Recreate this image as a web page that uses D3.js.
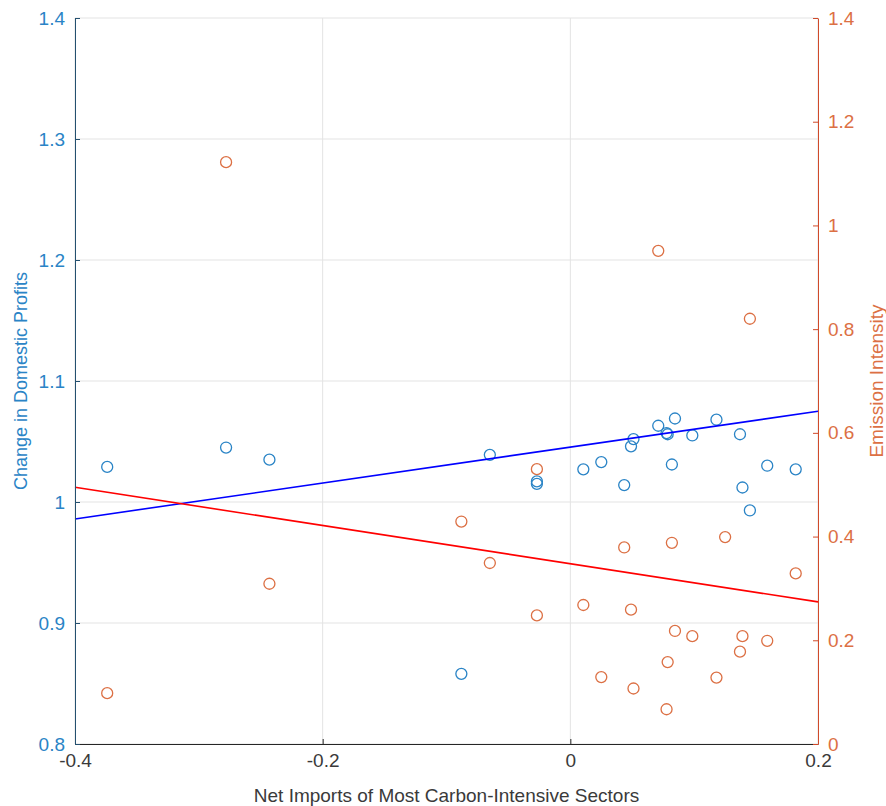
<!DOCTYPE html>
<html>
<head>
<meta charset="utf-8">
<script src="https://cdn.jsdelivr.net/npm/d3@7"></script>
<style>
  body { margin: 0; background: #fff; }
  svg text { font-family: "Liberation Sans", Arial, sans-serif; }
</style>
</head>
<body>
<div id="chart"></div>
<script>
// net imports of most carbon-intensive sectors (shared x)
var netImports = [-0.374, -0.278, -0.243, -0.088, -0.065, -0.027, -0.027, 0.0105, 0.025, 0.0435,
                  0.049, 0.051, 0.071, 0.0777, 0.0786, 0.082, 0.0845, 0.0985, 0.118, 0.125,
                  0.137, 0.139, 0.145, 0.159, 0.182];
// left axis: change in domestic profits (null = no point)
var profits = [1.029, 1.045, 1.035, 0.858, 1.039, 1.017, 1.015, 1.027, 1.033, 1.014,
               1.046, 1.052, 1.063, 1.057, 1.056, 1.031, 1.069, 1.055, 1.068, null,
               1.056, 1.012, 0.993, 1.030, 1.027];
// right axis: emission intensity
var emissions = [0.098, 1.122, 0.309, 0.429, 0.349, 0.530, 0.248, 0.268, 0.129, 0.379,
                 0.259, 0.107, 0.951, 0.067, 0.158, 0.388, 0.218, 0.208, 0.128, 0.399,
                 0.178, 0.208, 0.820, 0.199, 0.329];

// fitted trend lines, values at x = -0.4 and x = 0.2
var trendX = [-0.4, 0.2];
var profitsTrend = [0.986, 1.075];
var emissionsTrend = [0.495, 0.274];

var xTicks = [-0.4, -0.2, 0, 0.2];
var leftTicks = [0.8, 0.9, 1, 1.1, 1.2, 1.3, 1.4];
var rightTicks = [0, 0.2, 0.4, 0.6, 0.8, 1, 1.2, 1.4];

var width = 886, height = 806;
var margin = {top: 18, right: 68, bottom: 62, left: 75};

var blue = '#2a84c6', orange = '#dc7044';

var svg = d3.select('#chart').append('svg')
    .attr('width', width)
    .attr('height', height);

var x = d3.scaleLinear().domain([-0.4, 0.2]).range([margin.left, width - margin.right]);
var yL = d3.scaleLinear().domain([0.8, 1.4]).range([height - margin.bottom, margin.top]);
var yR = d3.scaleLinear().domain([0, 1.4]).range([height - margin.bottom, margin.top]);

// plain hyphen minus like the original
var fmt = function(d) { return String(d); };

// grid
var grid = svg.append('g').attr('stroke', '#e3e3e3').attr('stroke-width', 1);
grid.selectAll('.gx').data(xTicks).enter().append('line')
    .attr('x1', function(d) { return x(d); })
    .attr('x2', function(d) { return x(d); })
    .attr('y1', margin.top)
    .attr('y2', height - margin.bottom);
grid.selectAll('.gy').data(leftTicks).enter().append('line')
    .attr('y1', function(d) { return yL(d); })
    .attr('y2', function(d) { return yL(d); })
    .attr('x1', margin.left)
    .attr('x2', width - margin.right);

// blue markers (left axis)
svg.append('g').selectAll('circle')
    .data(netImports.map(function(v, i) { return [v, profits[i]]; })
        .filter(function(p) { return p[1] != null; }))
    .enter().append('circle')
    .attr('cx', function(d) { return x(d[0]); })
    .attr('cy', function(d) { return yL(d[1]); })
    .attr('r', 5.5)
    .attr('fill', 'none')
    .attr('stroke', blue)
    .attr('stroke-width', 1.3);

// orange markers (right axis)
svg.append('g').selectAll('circle')
    .data(netImports.map(function(v, i) { return [v, emissions[i]]; }))
    .enter().append('circle')
    .attr('cx', function(d) { return x(d[0]); })
    .attr('cy', function(d) { return yR(d[1]); })
    .attr('r', 5.5)
    .attr('fill', 'none')
    .attr('stroke', orange)
    .attr('stroke-width', 1.3);

var line = d3.line();

svg.append('path')
    .attr('d', line(trendX.map(function(v, i) { return [x(v), yL(profitsTrend[i])]; })))
    .attr('stroke', '#0000ff')
    .attr('stroke-width', 1.6)
    .attr('fill', 'none');

svg.append('path')
    .attr('d', line(trendX.map(function(v, i) { return [x(v), yR(emissionsTrend[i])]; })))
    .attr('stroke', '#ff0000')
    .attr('stroke-width', 1.6)
    .attr('fill', 'none');

// axes
var xAxis = svg.append('g')
    .attr('transform', 'translate(0,' + (height - margin.bottom) + ')')
    .call(d3.axisBottom(x).tickValues(xTicks).tickSizeInner(-5).tickSizeOuter(0)
        .tickPadding(10).tickFormat(fmt));
xAxis.select('.domain').attr('stroke', '#262626');
xAxis.selectAll('line').attr('stroke', '#262626');
xAxis.selectAll('text').attr('fill', '#3a3a3a').attr('font-size', 19);

var leftAxis = svg.append('g')
    .attr('transform', 'translate(' + margin.left + ',0)')
    .call(d3.axisLeft(yL).tickValues(leftTicks).tickSizeInner(-5).tickSizeOuter(0)
        .tickPadding(10).tickFormat(fmt));
leftAxis.select('.domain').attr('stroke', '#24506f');
leftAxis.selectAll('line').attr('stroke', '#24506f');
leftAxis.selectAll('text').attr('fill', blue).attr('font-size', 19);

var rightAxis = svg.append('g')
    .attr('transform', 'translate(' + (width - margin.right) + ',0)')
    .call(d3.axisRight(yR).tickValues(rightTicks).tickSizeInner(-5).tickSizeOuter(0)
        .tickPadding(10).tickFormat(fmt));
rightAxis.select('.domain').attr('stroke', '#d04a2a');
rightAxis.selectAll('line').attr('stroke', '#d04a2a');
rightAxis.selectAll('text').attr('fill', orange).attr('font-size', 19);

// axis titles
svg.append('text')
    .attr('x', (margin.left + width - margin.right) / 2)
    .attr('y', height - 4)
    .attr('text-anchor', 'middle')
    .attr('font-size', 19)
    .attr('fill', '#3a3a3a')
    .text('Net Imports of Most Carbon-Intensive Sectors');

svg.append('text')
    .attr('transform', 'translate(27,' + (height - margin.bottom + margin.top) / 2 + ') rotate(-90)')
    .attr('text-anchor', 'middle')
    .attr('font-size', 18)
    .attr('fill', blue)
    .text('Change in Domestic Profits');

svg.append('text')
    .attr('transform', 'translate(883,' + (height - margin.bottom + margin.top) / 2 + ') rotate(-90)')
    .attr('text-anchor', 'middle')
    .attr('font-size', 19)
    .attr('fill', orange)
    .text('Emission Intensity');
</script>
</body>
</html>
